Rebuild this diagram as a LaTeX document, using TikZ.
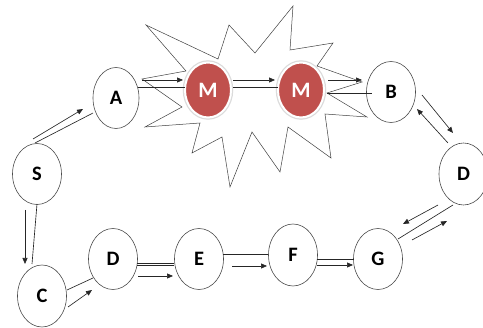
\documentclass[tikz,border=0pt]{standalone}
\usepackage{fontspec}
\setmainfont{Carlito}
\usetikzlibrary{shapes.geometric,arrows.meta}
\definecolor{mred}{HTML}{C0504D}
\begin{document}
\begin{tikzpicture}[x=1pt,y=-1pt,
  state/.style={ellipse,draw=black!70,line width=0.6pt,fill=white,
    minimum width=49pt,minimum height=61pt,inner sep=0pt,
    font=\fontsize{20.5}{21}\selectfont\bfseries},
  mnode/.style={ellipse,fill=mred,draw=white,line width=2pt,
    preaction={draw=black!14,line width=4.5pt},
    minimum width=46pt,minimum height=55pt,inner sep=0pt,text=white,
    font=\fontsize{22}{23}\selectfont\bfseries},
  link/.style={draw=black!85,line width=0.65pt},
  arr/.style={link,-{Triangle[length=6pt,width=5pt]}},
  burst/.style={draw=black!75,line width=0.5pt,fill=white,line join=miter}]
\useasboundingbox (0,0) rectangle (483,328);

% explosion outline
\draw[burst] (146,25) -- (218,59) -- (229,25) -- (255,53) -- (293,6) -- (290,50)
  -- (333,43) -- (317,66) -- (362,82) -- (327,93) -- (367,117) -- (325,114)
  -- (331,158) -- (288,127) -- (280,172) -- (252,132) -- (230,187) -- (222,137)
  -- (192,153) -- (200,123) -- (145,127) -- (182,107) -- (142,79) -- (186,71)
  -- cycle;

% states
\node[state] (S)  at (37,174)  {S};
\node[state,minimum width=46pt] (A) at (116,98) {A};
\node[state] (B)  at (391,92)  {B};
\node[state,minimum height=62pt] (DR) at (463.5,174) {D};
\node[state] (G)  at (378,259) {G};
\node[state,minimum height=62pt] (F) at (293,255) {F};
\node[state] (E)  at (199,259) {E};
\node[state] (DL) at (113,259) {D};
\node[state,minimum height=62pt] (C) at (42,296) {C};

% S -- A
\draw[link] ([shift={(-2,-31)}]S.center) -- ([shift={(-23,15)}]A.center);
\draw[arr]  ([shift={(-4,-35)}]S.center) -- ([shift={(-33,11)}]A.center);
% S -- C
\draw[link] ([shift={(0,30)}]S.center) -- ([shift={(-10,-32)}]C.center);
\draw[arr]  ([shift={(-12,36)}]S.center) -- ([shift={(-17,-32)}]C.center);
% C -- D
\draw[link] ([shift={(25,-6)}]C.center) -- ([shift={(-20,19)}]DL.center);
\draw[arr]  ([shift={(26,11)}]C.center) -- ([shift={(-21,31)}]DL.center);
% D -- E
\draw[link] ([shift={(24,4.3)}]DL.center) -- ([shift={(-25,4.3)}]E.center);
\draw[link] ([shift={(24,6.7)}]DL.center) -- ([shift={(-25,6.7)}]E.center);
\draw[arr]  ([shift={(25,17)}]DL.center) -- ([shift={(-26,17)}]E.center);
% E -- F
\draw[link] ([shift={(24,-5)}]E.center) -- ([shift={(-25,-1)}]F.center);
\draw[arr]  ([shift={(33,7)}]E.center) -- ([shift={(-26,11)}]F.center);
% F -- G
\draw[link] ([shift={(24,4)}]F.center) -- ([shift={(-24,0)}]G.center);
\draw[arr]  ([shift={(24,10)}]F.center) -- ([shift={(-25,6)}]G.center);
% G -- D
\draw[link] ([shift={(20,-20)}]G.center) -- ([shift={(-10.5,31)}]DR.center);
\draw[arr]  ([shift={(-25.5,31)}]DR.center) -- ([shift={(25,-35)}]G.center);
\draw[arr]  ([shift={(34,-19)}]G.center) -- ([shift={(-16.5,47)}]DR.center);
% B -- D
\draw[arr]  ([shift={(31,3)}]B.center) -- ([shift={(-10.5,-41)}]DR.center);
\draw[arr]  ([shift={(-15.5,-31)}]DR.center) -- ([shift={(26,17)}]B.center);

% the two M stations
\node[mnode] (M1) at (208,90) {M};
\node[mnode] (M2) at (301,90) {M};

% A -- M -- M -- B
\draw[arr]  ([shift={(26,-18)}]A.center) -- ([shift={(-25,-10)}]M1.center);
\draw[link] ([shift={(22,-11)}]A.center) -- ([shift={(-23,-3)}]M1.center);
\draw[arr]  ([shift={(25,-10)}]M1.center) -- ([shift={(-26,-10)}]M2.center);
\draw[link] ([shift={(25,-3)}]M1.center) -- ([shift={(-23,-3)}]M2.center);
\draw[arr]  ([shift={(27,-10)}]M2.center) -- ([shift={(-29,-12)}]B.center);
\draw[link] ([shift={(26,3)}]M2.center) -- ([shift={(-19,1)}]B.center);
\end{tikzpicture}
\end{document}
